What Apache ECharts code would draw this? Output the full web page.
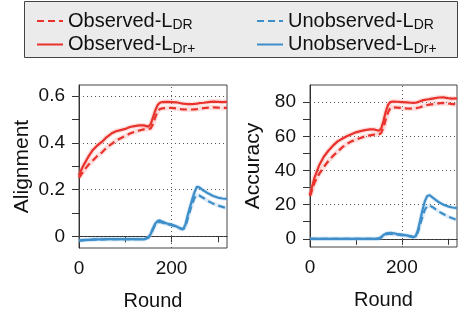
<!DOCTYPE html>
<html>
<head>
<meta charset="utf-8">
<script src="https://cdn.jsdelivr.net/npm/echarts@6/dist/echarts.min.js"></script>
<style>
  html, body { margin: 0; padding: 0; background: #fff; }
  #main { width: 458px; height: 311px; }
</style>
</head>
<body>
<div id="main"></div>
<script>
// rounds shared by every curve
var rounds = [0,5,10,20,30,40,50,60,70,80,90,100,110,120,130,140,150,155,160,165,170,175,180,190,200,210,220,225,230,235,240,245,250,255,260,270,280,290,300,310,320];

// Alignment panel
var alignObsDR  = [0.25,0.265,0.28,0.305,0.325,0.345,0.36,0.38,0.395,0.41,0.42,0.43,0.44,0.447,0.453,0.458,0.46,0.462,0.48,0.51,0.535,0.545,0.548,0.55,0.55,0.548,0.545,0.544,0.543,0.543,0.543,0.543,0.544,0.545,0.547,0.549,0.551,0.552,0.551,0.55,0.55];
var alignObsDr  = [0.26,0.285,0.305,0.34,0.37,0.39,0.405,0.425,0.44,0.45,0.455,0.46,0.468,0.472,0.475,0.475,0.47,0.48,0.51,0.54,0.562,0.572,0.575,0.576,0.575,0.574,0.57,0.568,0.567,0.566,0.566,0.566,0.567,0.568,0.57,0.572,0.575,0.577,0.576,0.575,0.576];
var alignUnoDR  = [-0.018,-0.017,-0.016,-0.015,-0.014,-0.013,-0.013,-0.012,-0.012,-0.012,-0.012,-0.012,-0.012,-0.012,-0.012,-0.013,-0.006,0.008,0.03,0.05,0.06,0.062,0.058,0.052,0.048,0.042,0.033,0.03,0.042,0.075,0.11,0.14,0.165,0.177,0.175,0.163,0.15,0.14,0.132,0.126,0.12];
var alignUnoDr  = [-0.018,-0.017,-0.016,-0.015,-0.014,-0.013,-0.013,-0.012,-0.012,-0.012,-0.012,-0.012,-0.012,-0.012,-0.012,-0.013,-0.005,0.01,0.035,0.055,0.066,0.068,0.063,0.055,0.05,0.043,0.033,0.03,0.05,0.09,0.125,0.16,0.19,0.212,0.21,0.195,0.183,0.173,0.166,0.162,0.16];

// Accuracy panel
var accObsDR = [25,29,33,38,42,45.5,48.5,51,53.5,55.5,57,58,59,60,60.5,61,61,62,65,70,74,76.5,77,76.8,76.5,76.3,76.2,76.2,76.4,76.7,77,77.5,78,78.3,78.5,78.9,79.3,79.5,79.2,78.8,78.8];
var accObsDr = [25.5,31,36,43,48,51.5,54.5,57,58.5,60,61.2,62.3,63,63.6,64,64,63.2,64.5,69,74.5,78.5,80,80.3,80.2,80,79.8,79.6,79.5,79.6,80,80.5,81,81.3,81.5,81.7,82.2,82.7,82.8,82.3,82,82.2];
var accUnoDR = [0,0,0,0,0,0,0,0,0,0,0,0,0,0,0,0,0.1,0.8,1.8,2.5,2.8,2.8,2.7,2.4,2.1,1.8,1.3,1,1.3,4,8.5,13,17,19,19.5,18,16,14.5,13,12,11];
var accUnoDr = [0,0,0,0,0,0,0,0,0,0,0,0,0,0,0,0,0.2,1,2.2,3,3.4,3.5,3.3,2.8,2.4,2,1.4,1,1.5,5,11,17,22,25,25.5,23.5,21.5,20,19,18.3,18];

var xTicks = [0,100,200,300];
var xLabels = [0,200];
var alignTicks = [0,0.1,0.2,0.3,0.4,0.5,0.6];
var alignLabels = [0,0.2,0.4,0.6];
var accTicks = [0,10,20,30,40,50,60,70,80];
var accLabels = [0,20,40,60,80];

var RED = '#e8322b', BLUE = '#3d8ec9';
var FONT = 'Liberation Sans';

function pairs(ys) {
    return rounds.map(function (r, i) { return [r, ys[i]]; });
}

function gridMarks(yVals) {
    var d = yVals.map(function (v) { return { yAxis: v }; });
    d.push({ xAxis: 200 });
    return {
        silent: true, symbol: 'none', z: 1,
        label: { show: false },
        lineStyle: { type: [1, 3], color: '#555', width: 1 },
        data: d
    };
}

function panel(idx, obsDR, obsDr, unoDR, unoDr, gridVals) {
    var base = { type: 'line', xAxisIndex: idx, yAxisIndex: idx, symbol: 'none', showSymbol: false, animation: false };
    var halo = function (nm, ys, col, w) {
        return Object.assign({}, base, { name: nm, data: pairs(ys), z: 1,
            lineStyle: { color: col, width: w }, itemStyle: { color: col } });
    };
    return [
        Object.assign(halo('haloA' + idx, obsDr, 'rgba(246,150,145,0.3)', 5), { markLine: gridMarks(gridVals) }),
        halo('haloB' + idx, obsDR, 'rgba(246,150,145,0.3)', 5),
        halo('haloC' + idx, unoDr, 'rgba(130,185,228,0.3)', 4),
        halo('haloD' + idx, unoDR, 'rgba(130,185,228,0.25)', 4),
        Object.assign({}, base, { name: 'Observed-L_DR', data: pairs(obsDR), z: 3,
            lineStyle: { color: RED, width: 2.2, type: [7, 4] }, itemStyle: { color: RED } }),
        Object.assign({}, base, { name: 'Observed-L_Dr+', data: pairs(obsDr), z: 3,
            lineStyle: { color: RED, width: 2.2 }, itemStyle: { color: RED } }),
        Object.assign({}, base, { name: 'Unobserved-L_DR', data: pairs(unoDR), z: 3,
            lineStyle: { color: BLUE, width: 2.2, type: [7, 4] }, itemStyle: { color: BLUE } }),
        Object.assign({}, base, { name: 'Unobserved-L_Dr+', data: pairs(unoDr), z: 3,
            lineStyle: { color: BLUE, width: 2.2 }, itemStyle: { color: BLUE } })
    ];
}

function xAxisOf(idx) {
    return {
        type: 'value', gridIndex: idx, min: 0, max: 320,
        name: 'Round', nameLocation: 'middle', nameGap: 43,
        nameTextStyle: { fontSize: 20, color: '#111', fontFamily: FONT },
        axisLine: { show: true, lineStyle: { color: '#333' } },
        axisTick: { show: true, length: 6, customValues: xTicks, lineStyle: { color: '#333' } },
        axisLabel: { customValues: xLabels, fontSize: 19, color: '#111', fontFamily: FONT, margin: 11 },
        splitLine: { show: false }
    };
}

function yAxisOf(idx, nm, mn, mx, ticks, labels) {
    return {
        type: 'value', gridIndex: idx, min: mn, max: mx,
        name: nm, nameLocation: 'middle', nameGap: 46,
        nameTextStyle: { fontSize: 21, color: '#111', fontFamily: FONT },
        axisLine: { show: true, lineStyle: { color: '#333' } },
        axisTick: { show: true, length: 7, customValues: ticks, lineStyle: { color: '#333' } },
        axisLabel: { customValues: labels, fontSize: 19, color: '#111', fontFamily: FONT, margin: 14 },
        splitLine: { show: false }
    };
}

function legendOf(left, names) {
    return {
        orient: 'vertical', left: left, top: 6,
        itemWidth: 26, itemHeight: 14, itemGap: 2,
        data: names,
        itemStyle: { opacity: 0 },
        formatter: function (name) {
            var p = name.split('_');
            return '{a|' + p[0] + '}{b|' + p[1] + '}';
        },
        textStyle: {
            padding: [0, 0, 0, 0],
            rich: {
                a: { fontSize: 20, lineHeight: 23, color: '#111', fontFamily: FONT },
                b: { fontSize: 14, lineHeight: 23, color: '#111', fontFamily: FONT, verticalAlign: 'bottom', padding: [6, 0, 0, 0] }
            }
        }
    };
}

var chart = echarts.init(document.getElementById('main'), null, { renderer: 'canvas' });
var option = {
    backgroundColor: '#fff',
    animation: false,
    graphic: [{
        type: 'rect', left: 24, top: 1, z: -1,
        shape: { width: 433, height: 56 },
        style: { fill: '#ebebeb', stroke: '#444', lineWidth: 1 }
    }],
    legend: [
        legendOf(31, ['Observed-L_DR', 'Observed-L_Dr+']),
        legendOf(251, ['Unobserved-L_DR', 'Unobserved-L_Dr+'])
    ],
    grid: [
        { left: 79, top: 85, width: 148, height: 163, show: true, borderColor: '#444', borderWidth: 1, outerBoundsMode: 'none' },
        { left: 310, top: 85, width: 147, height: 162, show: true, borderColor: '#444', borderWidth: 1, outerBoundsMode: 'none' }
    ],
    xAxis: [xAxisOf(0), xAxisOf(1)],
    yAxis: [
        yAxisOf(0, 'Alignment', -0.05, 0.648, alignTicks, alignLabels),
        yAxisOf(1, 'Accuracy', -4.8, 90, accTicks, accLabels)
    ],
    series: panel(0, alignObsDR, alignObsDr, alignUnoDR, alignUnoDr, alignLabels)
        .concat(panel(1, accObsDR, accObsDr, accUnoDR, accUnoDr, accLabels))
};
chart.setOption(option);
</script>
</body>
</html>
